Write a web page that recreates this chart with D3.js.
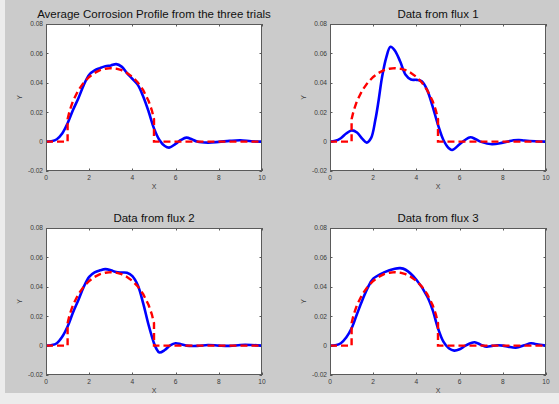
<!DOCTYPE html>
<html>
<head>
<meta charset="utf-8">
<script src="https://cdn.jsdelivr.net/npm/d3@7"></script>
<style>
  html, body { margin: 0; padding: 0; background: #ececec; }
  svg { display: block; }
  text { font-family: "Liberation Sans", Arial, sans-serif; }
</style>
</head>
<body>
<svg id="fig" width="559" height="404"></svg>
<script>
// Panel titles
const titles = [
  "Average Corrosion Profile from the three trials",
  "Data from flux 1",
  "Data from flux 2",
  "Data from flux 3"
];

// Axis ticks
const xTickValues = [0, 2, 4, 6, 8, 10];
const yTickValues = [-0.02, 0, 0.02, 0.04, 0.06, 0.08];
const yTickLabels = ["-0.02", "0", "0.02", "0.04", "0.06", "0.08"];

// Reference (true) corrosion profile, red dashed
const refX = [0, 1, 1, 1.1, 1.25, 1.5, 1.75, 2, 2.25, 2.5, 2.75, 3, 3.25, 3.5, 3.75, 4, 4.25, 4.5, 4.75, 4.9, 5, 5, 10];
const refY = [0, 0, 0.0153, 0.0213, 0.0276, 0.0350, 0.0402, 0.0440, 0.0467, 0.0486, 0.0496, 0.0500, 0.0496, 0.0486, 0.0467, 0.0440, 0.0402, 0.0350, 0.0276, 0.0213, 0.0153, 0, 0];

// Average of the three trials
const avgX = [0, 0.25, 0.5, 0.75, 1, 1.25, 1.5, 1.75, 2, 2.25, 2.5, 2.75, 3, 3.25, 3.5, 3.75, 4, 4.25, 4.5, 4.75, 5, 5.25, 5.5, 5.7, 6, 6.25, 6.5, 6.75, 7, 7.5, 8, 8.5, 9, 9.5, 10];
const avgY = [0, 0.0003, 0.0016, 0.0055, 0.0125, 0.0215, 0.0295, 0.0385, 0.0455, 0.0485, 0.0500, 0.0512, 0.0518, 0.0527, 0.0510, 0.0466, 0.0427, 0.0386, 0.0307, 0.0205, 0.0090, 0.0011, -0.0030, -0.0041, -0.0016, 0.0011, 0.0027, 0.0016, 0.0000, -0.0007, -0.0002, 0.0005, 0.0009, 0.0002, 0];

// Flux 1
const flux1X = [0, 0.25, 0.5, 0.75, 1, 1.25, 1.5, 1.7, 1.9, 2.1, 2.25, 2.4, 2.6, 2.8, 3, 3.25, 3.5, 3.75, 4, 4.25, 4.5, 4.75, 5, 5.25, 5.5, 5.65, 6, 6.25, 6.5, 6.75, 7, 7.5, 8, 8.5, 8.75, 9, 9.5, 10];
const flux1Y = [0, 0.0005, 0.0023, 0.0055, 0.0076, 0.0062, 0.0018, -0.0007, 0.0023, 0.0148, 0.0280, 0.0430, 0.0570, 0.0645, 0.0620, 0.0545, 0.0455, 0.0422, 0.0420, 0.0410, 0.0350, 0.0240, 0.0114, 0.0011, -0.0045, -0.0057, -0.0018, 0.0011, 0.0030, 0.0016, -0.0002, -0.0018, -0.0007, 0.0009, 0.0011, 0.0007, 0.0002, 0];

// Flux 2
const flux2X = [0, 0.25, 0.5, 0.75, 1, 1.25, 1.5, 1.75, 2, 2.25, 2.5, 2.75, 3, 3.25, 3.5, 3.75, 4, 4.25, 4.5, 4.75, 5, 5.1, 5.25, 5.5, 5.75, 6, 6.25, 6.5, 7, 7.5, 8, 8.5, 9, 9.5, 10];
const flux2Y = [0, 0.0003, 0.0016, 0.0060, 0.0130, 0.0225, 0.0310, 0.0400, 0.0468, 0.0498, 0.0512, 0.0520, 0.0513, 0.0500, 0.0497, 0.0495, 0.0472, 0.0410, 0.0287, 0.0140, 0.0016, -0.0018, -0.0047, -0.0030, 0.0002, 0.0016, 0.0009, 0.0000, -0.0002, 0.0004, 0.0000, -0.0002, 0.0004, 0.0004, 0];

// Flux 3
const flux3X = [0, 0.25, 0.5, 0.75, 1, 1.25, 1.5, 1.75, 2, 2.5, 3, 3.25, 3.5, 4, 4.5, 4.75, 5, 5.25, 5.5, 5.75, 6, 6.25, 6.5, 6.7, 7, 7.25, 7.5, 7.75, 8, 8.25, 8.6, 9, 9.3, 9.5, 10];
const flux3Y = [0, 0.0003, 0.0016, 0.0055, 0.0118, 0.0215, 0.0310, 0.0395, 0.0455, 0.0498, 0.0523, 0.0527, 0.0516, 0.0448, 0.0334, 0.0243, 0.0118, 0.0027, -0.0018, -0.0034, -0.0025, -0.0002, 0.0016, 0.0023, 0.0005, -0.0007, -0.0002, 0.0002, 0.0000, -0.0007, -0.0014, 0.0002, 0.0016, 0.0011, 0];

const measuredX = [avgX, flux1X, flux2X, flux3X];
const measuredY = [avgY, flux1Y, flux2Y, flux3Y];

// Subplot placement (2 x 2 grid)
const boxes = [
  { left: 46,  top: 24,  right: 262, bottom: 171 },
  { left: 330, top: 24,  right: 546, bottom: 171 },
  { left: 46,  top: 228, right: 262, bottom: 375 },
  { left: 330, top: 228, right: 546, bottom: 375 }
];

const svg = d3.select("#fig");

// Figure background
svg.append("rect")
  .attr("x", 5).attr("y", 0)
  .attr("width", 554).attr("height", 393)
  .attr("fill", "#cbcbcb");

const frameColor = "#5a5a5a";
const textColor = "#3a3a3a";
const tickLen = 2.5;

boxes.forEach((b, i) => {
  const x = d3.scaleLinear().domain([0, 10]).range([b.left, b.right]);
  const y = d3.scaleLinear().domain([-0.02, 0.08]).range([b.bottom, b.top]);
  const g = svg.append("g");

  // Plot area
  g.append("rect")
    .attr("x", b.left).attr("y", b.top)
    .attr("width", b.right - b.left).attr("height", b.bottom - b.top)
    .attr("fill", "#ffffff");

  // Inward ticks on all four sides
  const ticks = g.append("g").attr("stroke", frameColor).attr("stroke-width", 1);
  xTickValues.forEach(v => {
    const px = Math.round(x(v)) + 0.5;
    ticks.append("line").attr("x1", px).attr("x2", px).attr("y1", b.bottom).attr("y2", b.bottom - tickLen);
    ticks.append("line").attr("x1", px).attr("x2", px).attr("y1", b.top).attr("y2", b.top + tickLen);
  });
  yTickValues.forEach(v => {
    const py = Math.round(y(v)) + 0.5;
    ticks.append("line").attr("x1", b.left).attr("x2", b.left + tickLen).attr("y1", py).attr("y2", py);
    ticks.append("line").attr("x1", b.right).attr("x2", b.right - tickLen).attr("y1", py).attr("y2", py);
  });

  // Measured profile (blue) then reference (red dashed) on top
  const line = d3.line()
    .x(d => x(d[0])).y(d => y(d[1]))
    .curve(d3.curveCatmullRom.alpha(0.5));
  g.append("path")
    .datum(d3.zip(measuredX[i], measuredY[i]))
    .attr("d", line)
    .attr("fill", "none")
    .attr("stroke", "#0000ff")
    .attr("stroke-width", 2.6)
    .attr("stroke-linejoin", "round");

  const refLine = d3.line().x(d => x(d[0])).y(d => y(d[1]));
  g.append("path")
    .datum(d3.zip(refX, refY))
    .attr("d", refLine)
    .attr("fill", "none")
    .attr("stroke", "#ff0000")
    .attr("stroke-width", 2.4)
    .attr("stroke-dasharray", "7,4");

  // Frame
  g.append("rect")
    .attr("x", b.left + 0.5).attr("y", b.top + 0.5)
    .attr("width", b.right - b.left - 1).attr("height", b.bottom - b.top - 1)
    .attr("fill", "none")
    .attr("stroke", frameColor)
    .attr("stroke-width", 1);

  // Tick labels
  g.selectAll(".xl").data(xTickValues).enter().append("text")
    .attr("x", d => x(d)).attr("y", b.bottom + 8.5)
    .attr("text-anchor", "middle")
    .attr("font-size", 6.6)
    .attr("fill", textColor)
    .text(d => d);
  g.selectAll(".yl").data(yTickValues).enter().append("text")
    .attr("x", b.left - 3).attr("y", d => y(d) + 2.3)
    .attr("text-anchor", "end")
    .attr("font-size", 6.6)
    .attr("fill", textColor)
    .text((d, k) => yTickLabels[k]);

  // Axis labels
  g.append("text")
    .attr("x", (b.left + b.right) / 2).attr("y", b.bottom + 18)
    .attr("text-anchor", "middle")
    .attr("font-size", 7)
    .attr("fill", textColor)
    .text("X");
  g.append("text")
    .attr("transform", `translate(${b.left - 24},${(b.top + b.bottom) / 2}) rotate(-90)`)
    .attr("text-anchor", "middle")
    .attr("font-size", 7)
    .attr("fill", textColor)
    .text("Y");

  // Title
  g.append("text")
    .attr("x", (b.left + b.right) / 2).attr("y", b.top - 6)
    .attr("text-anchor", "middle")
    .attr("font-size", 11.5)
    .attr("fill", "#111")
    .text(titles[i]);
});
</script>
</body>
</html>
